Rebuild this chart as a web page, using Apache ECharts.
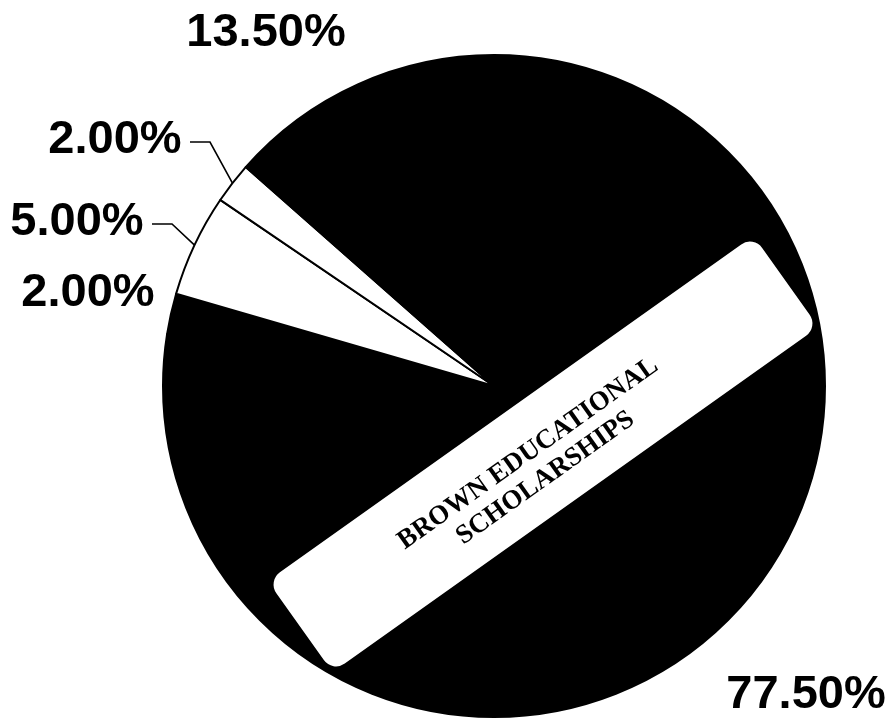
<!DOCTYPE html>
<html>
<head>
<meta charset="utf-8">
<script src="https://cdn.jsdelivr.net/npm/echarts@6/dist/echarts.min.js"></script>
<style>html,body{margin:0;padding:0;background:#fff;}#c{width:893px;height:724px;}</style>
</head>
<body>
<div id="c"></div>
<script>
// Data (clockwise from 12 o'clock)
const sliceNames = ['BROWN EDUCATIONAL SCHOLARSHIPS', 'Other A', 'Other B', 'Other C', 'Other D'];
const sliceValues = [77.5, 2.0, 5.0, 2.0, 13.5];
const sliceLabels = ['77.50%', '2.00%', '5.00%', '2.00%', '13.50%'];
const sliceColors = ['#000000', '#000000', '#ffffff', '#ffffff', '#000000'];
const boxLines = ['BROWN EDUCATIONAL', 'SCHOLARSHIPS'];

// Layout (label centres and leader elbows), not data
const labelPos = [[806, 695], [88, 293], [77, 222], [115, 140], [266, 33]];
const leaderElbow = [null, null, [[172, 224], [152, 224]], [[210, 142], [190, 142]], null];

const chart = echarts.init(document.getElementById('c'), null, {renderer: 'canvas'});
const data = sliceValues.map((v, i) => ({
  name: sliceNames[i],
  value: v,
  itemStyle: {color: sliceColors[i]},
  labelLine: {show: !!leaderElbow[i], lineStyle: {color: '#000', width: 1.6}}
}));

chart.setOption({
  backgroundColor: '#ffffff',
  animation: false,
  series: [{
    type: 'pie',
    center: [494, 386],
    radius: [0, 331],
    startAngle: 90,
    clockwise: true,
    data: data,
    itemStyle: {borderColor: '#000', borderWidth: 2},
    label: {
      show: true,
      position: 'outside',
      overflow: 'none',
      formatter: p => sliceLabels[p.dataIndex],
      fontFamily: '"Liberation Sans", Arial, sans-serif',
      fontWeight: 'bold',
      fontSize: 47,
      color: '#000'
    },
    labelLine: {show: true, length: 10, length2: 10},
    labelLayout: function (params) {
      const i = params.dataIndex;
      const pos = labelPos[i];
      const res = {x: pos[0], y: pos[1], align: 'center', verticalAlign: 'middle'};
      if (leaderElbow[i] && params.labelLinePoints) {
        const p0 = params.labelLinePoints[0];
        res.labelLinePoints = [p0, leaderElbow[i][0], leaderElbow[i][1]];
      }
      return res;
    },
    emphasis: {disabled: true}
  }],
  graphic: [{
    type: 'group',
    z: 100,
    x: 543,
    y: 454,
    rotation: 35.4 * Math.PI / 180,
    children: [{
      type: 'rect',
      z: 100,
      shape: {x: -298, y: -56, width: 596, height: 112, r: 15},
      style: {fill: '#ffffff', stroke: null}
    }, {
      type: 'text',
      z: 101,
      x: -12,
      y: 6,
      style: {
        text: boxLines.join('\n'),
        font: 'bold 27px "Liberation Serif", "Times New Roman", serif',
        fill: '#000',
        align: 'center',
        verticalAlign: 'middle',
        lineHeight: 30
      }
    }]
  }]
});
</script>
</body>
</html>
